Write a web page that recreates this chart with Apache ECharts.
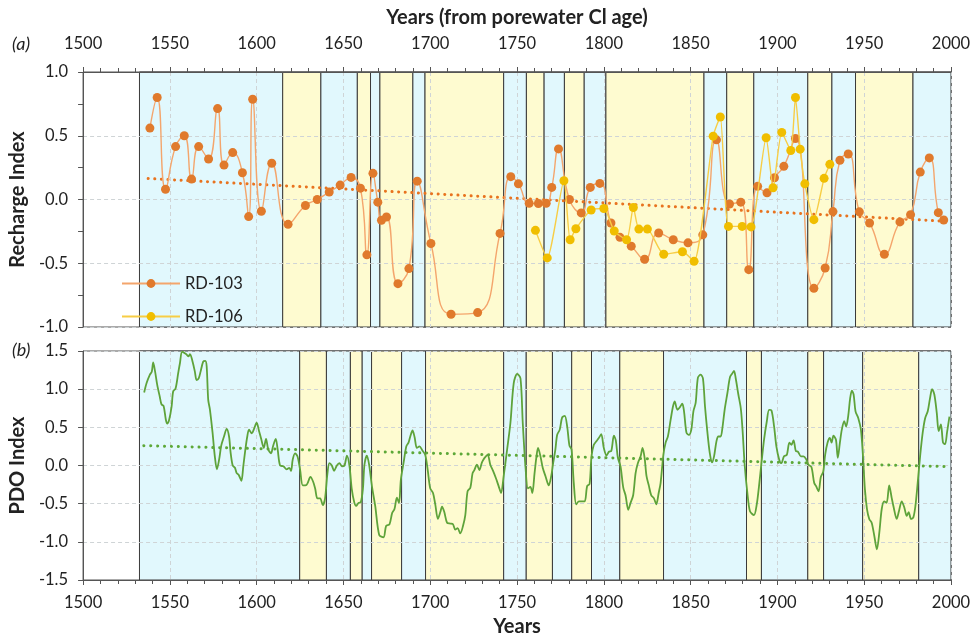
<!DOCTYPE html>
<html>
<head>
<meta charset="utf-8">
<script src="https://cdn.jsdelivr.net/npm/echarts@6/dist/echarts.min.js"></script>
<style>
  html, body { margin: 0; padding: 0; background: #fff; }
  #chart { width: 974px; height: 638px; }
</style>
</head>
<body>
<div id="chart"></div>
<script>
// recharge index samples (porewater Cl age)
const rd103Years = [1538.5, 1542.7, 1547.5, 1553.3, 1558.3, 1562.5, 1566.6, 1572.3, 1577.5, 1581.2, 1586.2, 1591.8, 1595.4, 1597.7, 1602.7, 1608.7,
  1618.1, 1628.1, 1634.9, 1641.8, 1648.1, 1654.4, 1659.8, 1663.5, 1667, 1669.8, 1671.9, 1674.8, 1681.4, 1687.7, 1692.5, 1700.4,
  1712, 1727.3, 1740.2, 1746.4, 1750.8, 1757, 1762.3, 1766.8, 1770, 1773.9, 1780.2, 1787, 1792.2, 1797.7, 1804.1, 1809.3,
  1815.8, 1823.5, 1831.6, 1840, 1848.5, 1857, 1864.9, 1872.4, 1878.9, 1883.5, 1888.6, 1894, 1898.3, 1903.7, 1910.4, 1921,
  1927.5, 1932, 1936, 1940.8, 1947.2, 1953.1, 1961.6, 1970.6, 1976.7, 1982.3, 1987.5, 1992.7, 1995.8]
const rd103Index = [0.56, 0.80, 0.08, 0.415, 0.50, 0.16, 0.415, 0.318, 0.713, 0.27, 0.368, 0.21, -0.134, 0.786, -0.092, 0.284,
  -0.195, -0.047, 0.0, 0.058, 0.113, 0.173, 0.089, -0.434, 0.205, -0.021, -0.163, -0.137, -0.66, -0.542, 0.144, -0.345,
  -0.90, -0.887, -0.266, 0.179, 0.123, -0.03, -0.031, -0.03, 0.095, 0.397, 0.0, -0.105, 0.095, 0.126, -0.184, -0.297,
  -0.366, -0.469, -0.263, -0.316, -0.34, -0.277, 0.468, -0.035, -0.021, -0.55, 0.103, 0.052, 0.171, 0.26, 0.478, -0.697,
  -0.537, -0.095, 0.308, 0.357, -0.097, -0.184, -0.429, -0.176, -0.119, 0.215, 0.326, -0.103, -0.161]

const rd106Years = [1760.6, 1767.4, 1777, 1780.6, 1783.9, 1792.7, 1800, 1806, 1813.1, 1817, 1820.2, 1825.1, 1834.5, 1845.3, 1852,
  1863, 1867.1, 1871.8, 1879.7, 1884.8, 1893.5, 1897.5, 1902.5, 1907.7, 1910.4, 1913.1, 1915.8, 1921, 1926.9, 1930.2]
const rd106Index = [-0.242, -0.458, 0.147, -0.316, -0.229, -0.082, -0.071, -0.247, -0.316, -0.063, -0.232, -0.232, -0.429, -0.41, -0.485,
  0.497, 0.647, -0.211, -0.211, -0.215, 0.484, 0.092, 0.526, 0.384, 0.8, 0.395, 0.123, -0.158, 0.166, 0.276]

// linear trends (start / end)
const rechargeTrend = [[1537.5, 0.165], [1996, -0.17]]
const pdoTrend = [[1535, 0.26], [1999, -0.015]]

// PDO reconstruction
const pdoYears = [1535.2, 1536.6, 1538.5, 1539.6, 1540.4, 1541.5, 1542.7, 1544.2, 1545.2, 1546.4, 1547.7, 1548.5, 1549.6, 1551, 1551.9,
  1553.3, 1554.8, 1555.8, 1557.1, 1559.3, 1560.8, 1561.6, 1563.1, 1564.4, 1565.4, 1566.6, 1567.7, 1569.2, 1570.4, 1571.2,
  1572.1, 1573.1, 1574.6, 1575.9, 1577.1, 1578.4, 1579.6, 1581.2, 1582.7, 1584.1, 1585, 1586.2, 1587.5, 1588.5, 1589.6,
  1591.2, 1592.3, 1593.5, 1594.6, 1595.6, 1597.2, 1598.5, 1600, 1601.4, 1602.7, 1604.1, 1605.4, 1606.7, 1608.3, 1609.4,
  1611, 1612.1, 1613.5, 1615.4, 1617.3, 1618.8, 1619.8, 1620.8, 1622.1, 1623.5, 1625, 1626.6, 1628.7, 1631, 1632.5,
  1633.7, 1635, 1636.6, 1638.1, 1639.4, 1640.8, 1641.9, 1643.3, 1644.6, 1646.2, 1647.7, 1649.1, 1650.6, 1652, 1653.5,
  1654.8, 1656.2, 1657.3, 1658.7, 1660, 1661.2, 1662.1, 1663.5, 1664.8, 1666.4, 1668.3, 1670.6, 1673.1, 1674.6, 1676.5,
  1678.1, 1679.4, 1680.8, 1682, 1683.1, 1684.6, 1686.2, 1687.5, 1688.5, 1689.8, 1691, 1692.3, 1693.8, 1695.4, 1697.1,
  1698.5, 1700, 1701.6, 1702.9, 1704.4, 1705.8, 1706.8, 1708.1, 1709.7, 1711.6, 1713.1, 1714.4, 1715.8, 1717.3, 1718.9,
  1720.2, 1721.5, 1723.1, 1724.4, 1725.4, 1726.9, 1728.3, 1729.8, 1731.3, 1733.1, 1734.6, 1736.2, 1737.9, 1739.4, 1740.8,
  1742.3, 1744.3, 1746.2, 1748.1, 1750.1, 1752, 1753.3, 1754.9, 1756.3, 1757.7, 1758.8, 1760.1, 1761.2, 1762.1, 1763.5,
  1764.8, 1766.4, 1768.3, 1769.7, 1770.8, 1772.1, 1773.1, 1774.6, 1776, 1777.5, 1778.9, 1780.2, 1781.4, 1782.7, 1784.1,
  1785.6, 1787.5, 1789, 1790.4, 1791.8, 1792.9, 1794.2, 1795.8, 1797.1, 1798.5, 1800, 1801.6, 1802.9, 1804.3, 1805.8,
  1806.9, 1808.1, 1809.6, 1811.2, 1812.5, 1814.1, 1815.4, 1816.9, 1818.3, 1819.6, 1821.2, 1822.3, 1823.5, 1824.6, 1826,
  1827.3, 1828.9, 1830.2, 1831.6, 1832.7, 1834.3, 1835.6, 1836.9, 1838.5, 1839.8, 1840.8, 1842.4, 1843.7, 1845.2, 1846.2,
  1847.6, 1849, 1850.4, 1851.6, 1852.9, 1854.2, 1855.8, 1857.1, 1858.3, 1859.6, 1861, 1862.3, 1863.5, 1864.9, 1866,
  1867.3, 1868.3, 1869.6, 1871.2, 1872.7, 1874.1, 1875, 1876, 1877.5, 1878.9, 1879.9, 1881.2, 1882.7, 1884.2, 1886.5,
  1888.1, 1889.4, 1890.8, 1892.3, 1893.9, 1895.2, 1896.6, 1898.1, 1899.4, 1901, 1902.3, 1903.8, 1905.4, 1906.9, 1908.1,
  1909.3, 1910.6, 1911.9, 1913.5, 1915, 1916.6, 1917.9, 1919.6, 1921.2, 1922.3, 1923.7, 1925, 1926.4, 1927.5, 1928.9,
  1930.2, 1931.2, 1932.3, 1933.7, 1934.8, 1936, 1937.1, 1938.5, 1939.6, 1940.8, 1941.9, 1942.9, 1943.9, 1945, 1946.6,
  1948.1, 1949.3, 1950.4, 1951.6, 1952.9, 1954.3, 1955.8, 1957.3, 1958.7, 1960.1, 1961.5, 1962.9, 1964.4, 1965.8, 1967,
  1968.7, 1970, 1971.6, 1973.1, 1974.5, 1975.6, 1977, 1978.3, 1979.5, 1980.8, 1982.2, 1983.7, 1985.1, 1986.6, 1987.9,
  1989.1, 1990.4, 1991.8, 1992.9, 1994.2, 1995.4, 1996.6, 1997.7, 1999.1]
const pdoIndex = [0.956, 1.08, 1.19, 1.23, 1.35, 1.23, 1.06, 0.90, 0.80, 0.78, 0.60, 0.55, 0.60, 0.77, 0.97,
  1.01, 1.21, 1.34, 1.49, 1.46, 1.43, 1.46, 1.36, 1.23, 1.12, 1.14, 1.23, 1.36, 1.37, 1.30,
  0.86, 0.73, 0.43, 0.12, -0.05, 0.08, 0.26, 0.38, 0.48, 0.38, 0.17, 0.0, -0.03, -0.10, -0.12,
  -0.20, -0.01, 0.21, 0.38, 0.47, 0.42, 0.48, 0.56, 0.45, 0.34, 0.23, 0.35, 0.21, 0.16, 0.25,
  0.35, 0.21, 0.0, -0.01, -0.05, -0.03, -0.07, 0.08, 0.16, 0.12, -0.05, -0.26, -0.255, -0.15, -0.21,
  -0.30, -0.43, -0.43, -0.52, -0.43, -0.10, 0.03, 0.0, -0.07, 0.0, 0.03, -0.01, 0.0, 0.13, -0.01,
  -0.31, -0.48, -0.53, -0.49, -0.48, -0.31, 0.01, 0.13, 0.01, -0.27, -0.53, -0.91, -0.94, -0.79, -0.77,
  -0.62, -0.57, -0.42, -0.49, -0.18, 0.03, 0.25, 0.30, 0.38, 0.46, 0.37, 0.23, 0.25, 0.20, 0.14,
  -0.05, -0.30, -0.36, -0.51, -0.70, -0.61, -0.54, -0.61, -0.75, -0.76, -0.77, -0.84, -0.82, -0.89, -0.79,
  -0.65, -0.34, -0.29, -0.10, -0.06, 0.01, -0.06, 0.04, 0.10, 0.14, 0.01, -0.07, -0.17, -0.27, -0.36,
  -0.14, 0.21, 0.56, 1.08, 1.20, 1.14, 0.56, -0.03, -0.30, -0.28, -0.36, -0.10, 0.12, 0.23, 0.12,
  -0.03, -0.14, -0.26, -0.14, 0.03, 0.21, 0.40, 0.47, 0.63, 0.65, 0.51, 0.26, 0.21, -0.23, -0.51,
  -0.47, -0.47, -0.47, -0.27, -0.24, 0.12, 0.27, 0.32, 0.36, 0.41, 0.23, 0.13, 0.18, 0.19, 0.39,
  0.33, 0.10, -0.01, -0.29, -0.39, -0.58, -0.49, -0.39, -0.10, 0.03, 0.12, 0.23, 0.10, -0.14, -0.27,
  -0.39, -0.43, -0.51, -0.36, -0.23, 0.14, 0.30, 0.38, 0.60, 0.77, 0.84, 0.73, 0.76, 0.81, 0.71,
  0.43, 0.40, 0.47, 0.71, 0.82, 1.15, 1.19, 1.14, 0.77, 0.45, 0.17, 0.04, 0.12, 0.32, 0.38,
  0.38, 0.49, 0.73, 0.95, 1.16, 1.21, 1.24, 1.14, 0.93, 0.75, 0.47, -0.01, -0.36, -0.60, -0.65,
  -0.51, -0.27, 0.03, 0.34, 0.58, 0.73, 0.72, 0.51, 0.25, 0.08, 0.03, 0.12, 0.14, 0.30, 0.27,
  0.33, 0.19, 0.18, 0.12, 0.12, 0.08, 0.01, -0.02, -0.23, -0.27, -0.34, -0.15, -0.08, 0.14, 0.30,
  0.36, 0.30, 0.39, 0.34, 0.10, 0.30, 0.47, 0.58, 0.51, 0.65, 0.88, 0.98, 0.93, 0.71, 0.62,
  0.47, 0.12, -0.31, -0.57, -0.70, -0.75, -0.92, -1.10, -0.88, -0.57, -0.47, -0.49, -0.26, -0.42, -0.55,
  -0.70, -0.60, -0.47, -0.55, -0.66, -0.61, -0.70, -0.68, -0.53, -0.23, 0.12, 0.43, 0.62, 0.71, 0.88,
  1.00, 0.93, 0.69, 0.45, 0.54, 0.30, 0.28, 0.43, 0.64]

// shaded phase boundaries, alternating blue / yellow starting with blue
const rechargeBreaks = [1532.5, 1615, 1637, 1658, 1665.6, 1671, 1690, 1697, 1742.3, 1755.4, 1765.6, 1777.3, 1788.7, 1801.2,
  1857.7, 1870.8, 1886.4, 1917.5, 1931.4, 1945, 1978.1, 2000]
const pdoBreaks = [1532.5, 1624.8, 1640.2, 1654, 1660.8, 1666.2, 1683.5, 1697.3, 1742.3, 1755.3, 1770.4, 1781.5, 1792.9, 1809.2,
  1834.4, 1882.2, 1890.8, 1917.5, 1926.6, 1949.1, 1981.4, 2000]

const blue = '#e1f8fd'
const yellow = '#fefbd0'
const fontFamily = 'Lato, "Open Sans", sans-serif'

const toPairs = (xs, ys) => xs.map((x, i) => [x, ys[i]])
const bandAreas = (breaks) => {
    let areas = []
    for (let i = 0; i < breaks.length - 1; i++) {
        areas.push([
            { xAxis: breaks[i], itemStyle: { color: i % 2 === 0 ? blue : yellow, borderColor: '#3a3a3a', borderWidth: 1 } },
            { xAxis: breaks[i + 1] }
        ])
    }
    return areas
}

const xAxisBase = (gridIndex, position) => ({
    type: 'value',
    gridIndex: gridIndex,
    position: position,
    min: 1500,
    max: 2000,
    interval: 50,
    z: 3,
    axisLine: { show: true, onZero: false, lineStyle: { color: '#555' } },
    axisTick: { show: true, length: 5, lineStyle: { color: '#555' } },
    minorTick: { show: true, splitNumber: 5, length: 4, lineStyle: { color: '#555' } },
    splitLine: { show: true, lineStyle: { color: '#cfd4d6', type: [4, 3] } },
    axisLabel: { color: '#222', fontSize: 16.5, fontFamily: fontFamily, margin: position === 'top' ? 20 : 14, formatter: v => String(v) },
    nameLocation: 'middle',
    nameTextStyle: { color: '#222', fontSize: 20, fontWeight: 'bold', fontFamily: fontFamily }
})

const yAxisBase = (gridIndex, min, max, name, minor) => ({
    type: 'value',
    gridIndex: gridIndex,
    min: min,
    max: max,
    interval: 0.5,
    z: 3,
    name: name,
    nameLocation: 'middle',
    nameGap: 50,
    nameTextStyle: { color: '#222', fontSize: 20, fontWeight: 'bold', fontFamily: fontFamily },
    axisLine: { show: true, onZero: false, lineStyle: { color: '#555' } },
    axisTick: { show: true, length: 5, lineStyle: { color: '#555' } },
    minorTick: { show: minor, splitNumber: 2, length: 5, lineStyle: { color: '#555' } },
    splitLine: { show: true, lineStyle: { color: '#cfd4d6', type: [4, 3] } },
    axisLabel: { color: '#222', fontSize: 16.5, fontFamily: fontFamily, margin: 15, formatter: v => v.toFixed(1) }
})

const chart = echarts.init(document.getElementById('chart'))

const option = {
    animation: false,
    backgroundColor: '#fff',
    grid: [
        { left: 83, width: 868, top: 72, height: 255, show: true, borderColor: '#555', borderWidth: 1, backgroundColor: 'transparent' },
        { left: 83, width: 868, top: 351, height: 230, show: true, borderColor: '#555', borderWidth: 1, backgroundColor: 'transparent' }
    ],
    xAxis: [
        Object.assign(xAxisBase(0, 'top'), { name: 'Years (from porewater Cl age)', nameGap: 44 }),
        Object.assign(xAxisBase(1, 'bottom'), { name: 'Years', nameGap: 37 })
    ],
    yAxis: [
        yAxisBase(0, -1, 1, 'Recharge Index', true),
        yAxisBase(1, -1.5, 1.5, 'PDO Index', false)
    ],
    legend: {
        data: ['RD-103', 'RD-106'],
        orient: 'vertical',
        left: 116,
        top: 270,
        itemWidth: 58,
        itemHeight: 11,
        itemGap: 16,
        textStyle: { color: '#222', fontSize: 16.5, fontFamily: fontFamily }
    },
    graphic: [
        { type: 'text', left: 12, top: 35, style: { text: '(a)', font: 'italic 18px ' + fontFamily, fill: '#222' } },
        { type: 'text', left: 12, top: 341, style: { text: '(b)', font: 'italic 18px ' + fontFamily, fill: '#222' } }
    ],
    series: [
        {
            name: 'bandsA', type: 'line', xAxisIndex: 0, yAxisIndex: 0, data: [], z: 1, silent: true,
            markArea: { silent: true, data: bandAreas(rechargeBreaks) }
        },
        {
            name: 'bandsB', type: 'line', xAxisIndex: 1, yAxisIndex: 1, data: [], z: 1, silent: true,
            markArea: { silent: true, data: bandAreas(pdoBreaks) }
        },
        {
            name: 'rechargeTrend', type: 'line', xAxisIndex: 0, yAxisIndex: 0, z: 4,
            data: rechargeTrend, symbol: 'none',
            lineStyle: { color: '#e8731f', width: 3, type: [0.1, 6.5], cap: 'round' }
        },
        {
            name: 'RD-103', type: 'line', xAxisIndex: 0, yAxisIndex: 0, z: 5,
            data: toPairs(rd103Years, rd103Index),
            smooth: 0.5,
            symbol: 'circle', symbolSize: 9,
            itemStyle: { color: '#e07a2c' },
            lineStyle: { color: '#f4a56c', width: 1.4 }
        },
        {
            name: 'RD-106', type: 'line', xAxisIndex: 0, yAxisIndex: 0, z: 6,
            data: toPairs(rd106Years, rd106Index),
            smooth: 0.2,
            symbol: 'circle', symbolSize: 9,
            itemStyle: { color: '#f0be00' },
            lineStyle: { color: '#f7cd45', width: 1.4 }
        },
        {
            name: 'pdoTrend', type: 'line', xAxisIndex: 1, yAxisIndex: 1, z: 4,
            data: pdoTrend, symbol: 'none',
            lineStyle: { color: '#5da838', width: 3, type: [0.1, 6.8], cap: 'round' }
        },
        {
            name: 'PDO', type: 'line', xAxisIndex: 1, yAxisIndex: 1, z: 5,
            data: toPairs(pdoYears, pdoIndex),
            smooth: 0.3, symbol: 'none',
            lineStyle: { color: '#5ea33a', width: 1.8 }
        }
    ]
}

chart.setOption(option)
</script>
</body>
</html>
